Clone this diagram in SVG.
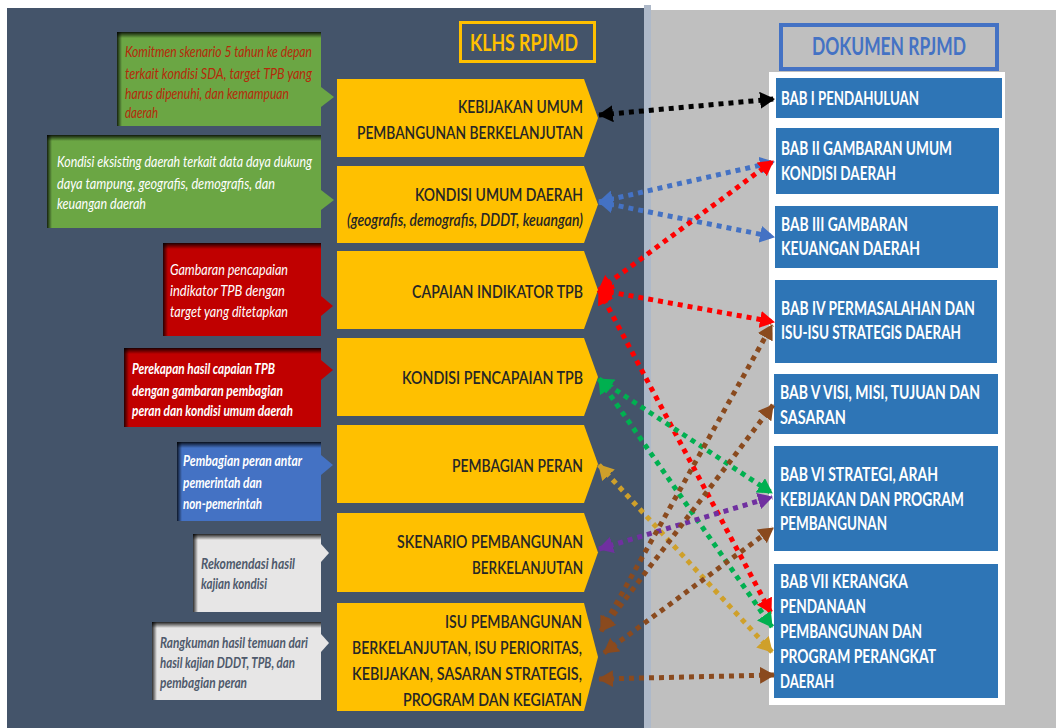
<svg xmlns="http://www.w3.org/2000/svg" width="1056" height="728" viewBox="0 0 1056 728">
<style>
.f{font-family:"Lato","DejaVu Sans",sans-serif}
.yt{font-size:17.5px;fill:#262626;font-weight:600}
.bt{font-size:18px;fill:#fff;font-weight:bold}
.lt{font-size:15.5px;font-style:italic}
.lb{font-weight:bold}
.c{fill:none;stroke-width:5;stroke-dasharray:5 5}
</style>
<defs>
<linearGradient id="shT" x1="0" y1="0" x2="0" y2="1"><stop offset="0" stop-color="#000" stop-opacity="0.85"/><stop offset="1" stop-color="#000" stop-opacity="0"/></linearGradient>
<linearGradient id="shL" x1="0" y1="0" x2="1" y2="0"><stop offset="0" stop-color="#000" stop-opacity="0.8"/><stop offset="1" stop-color="#000" stop-opacity="0"/></linearGradient>
<marker id="mk" viewBox="0 0 15 17" markerWidth="15" markerHeight="17" refX="14" refY="8.5" orient="auto-start-reverse" markerUnits="userSpaceOnUse"><path d="M0,0 L15,8.5 L0,17 z" fill="#000"/></marker>
<marker id="mb" viewBox="0 0 15 17" markerWidth="15" markerHeight="17" refX="14" refY="8.5" orient="auto-start-reverse" markerUnits="userSpaceOnUse"><path d="M0,0 L15,8.5 L0,17 z" fill="#4472C4"/></marker>
<marker id="mr" viewBox="0 0 15 17" markerWidth="15" markerHeight="17" refX="14" refY="8.5" orient="auto-start-reverse" markerUnits="userSpaceOnUse"><path d="M0,0 L15,8.5 L0,17 z" fill="#FF0000"/></marker>
<marker id="mg" viewBox="0 0 15 17" markerWidth="15" markerHeight="17" refX="14" refY="8.5" orient="auto-start-reverse" markerUnits="userSpaceOnUse"><path d="M0,0 L15,8.5 L0,17 z" fill="#00B050"/></marker>
<marker id="my" viewBox="0 0 15 17" markerWidth="15" markerHeight="17" refX="14" refY="8.5" orient="auto-start-reverse" markerUnits="userSpaceOnUse"><path d="M0,0 L15,8.5 L0,17 z" fill="#CFA02A"/></marker>
<marker id="mp" viewBox="0 0 15 17" markerWidth="15" markerHeight="17" refX="14" refY="8.5" orient="auto-start-reverse" markerUnits="userSpaceOnUse"><path d="M0,0 L15,8.5 L0,17 z" fill="#7030A0"/></marker>
<marker id="mn" viewBox="0 0 15 17" markerWidth="15" markerHeight="17" refX="14" refY="8.5" orient="auto-start-reverse" markerUnits="userSpaceOnUse"><path d="M0,0 L15,8.5 L0,17 z" fill="#8A4A1E"/></marker>
</defs>

<rect x="0" y="0" width="1056" height="728" fill="#fff"/>
<rect x="7" y="8" width="637" height="720" fill="#44546A"/>
<rect x="644" y="5" width="7" height="723" fill="#AEB9C9"/>
<rect x="651" y="10" width="405" height="718" fill="#BFBFBF"/>
<rect x="769" y="72" width="236" height="633" fill="#fff"/>

<g id="klhs-header">
<rect x="460.5" y="22.5" width="134" height="39" fill="none" stroke="#FFC000" stroke-width="3"/>
<text class="f" x="470" y="51" font-size="22" font-weight="bold" fill="#FFC000" textLength="108" lengthAdjust="spacingAndGlyphs">KLHS RPJMD</text>
</g>
<g id="dokumen-header">
<rect x="781" y="25" width="216" height="44" fill="none" stroke="#4472C4" stroke-width="4"/>
<text class="f" x="812" y="55" font-size="24" font-weight="bold" fill="#4472C4" textLength="154" lengthAdjust="spacingAndGlyphs">DOKUMEN RPJMD</text>
</g>

<!-- left notes -->
<g id="note-1">
<polygon points="321,87 334,97 321,107" fill="#6BA644"/>
<rect x="117" y="32" width="204" height="94" fill="#6BA644"/>
<rect x="117" y="32" width="204" height="6" fill="url(#shT)"/>
<rect x="117" y="32" width="5" height="94" fill="url(#shL)"/>
<g class="f lt" fill="#B52A0A">
<text x="125" y="57" textLength="187" lengthAdjust="spacingAndGlyphs">Komitmen skenario 5 tahun ke depan</text>
<text x="125" y="79" textLength="187" lengthAdjust="spacingAndGlyphs">terkait kondisi SDA, target TPB yang</text>
<text x="125" y="99" textLength="164" lengthAdjust="spacingAndGlyphs">harus dipenuhi, dan kemampuan</text>
<text x="125" y="118" textLength="33" lengthAdjust="spacingAndGlyphs">daerah</text>
</g>
</g>
<g id="note-2">
<polygon points="321,190 334,200 321,210" fill="#6BA644"/>
<rect x="47" y="135" width="274" height="93" fill="#6BA644"/>
<rect x="47" y="135" width="274" height="6" fill="url(#shT)"/>
<rect x="47" y="135" width="5" height="93" fill="url(#shL)"/>
<g class="f lt" fill="#fff">
<text x="57" y="167" textLength="255" lengthAdjust="spacingAndGlyphs">Kondisi eksisting daerah terkait data daya dukung</text>
<text x="57" y="189" textLength="218" lengthAdjust="spacingAndGlyphs">daya tampung, geografis, demografis, dan</text>
<text x="57" y="209" textLength="89" lengthAdjust="spacingAndGlyphs">keuangan daerah</text>
</g>
</g>
<g id="note-3">
<polygon points="321,296 333,306 321,316" fill="#C00000"/>
<rect x="163" y="243" width="158" height="93" fill="#C00000"/>
<rect x="163" y="243" width="158" height="6" fill="url(#shT)"/>
<rect x="163" y="243" width="5" height="93" fill="url(#shL)"/>
<g class="f lt" fill="#fff">
<text x="170" y="275" textLength="118" lengthAdjust="spacingAndGlyphs">Gambaran pencapaian</text>
<text x="170" y="296" textLength="115" lengthAdjust="spacingAndGlyphs">indikator TPB dengan</text>
<text x="170" y="317" textLength="118" lengthAdjust="spacingAndGlyphs">target yang ditetapkan</text>
</g>
</g>
<g id="note-4">
<polygon points="321,360 333,370 321,380" fill="#C00000"/>
<rect x="124" y="348" width="197" height="79" fill="#C00000"/>
<rect x="124" y="348" width="197" height="6" fill="url(#shT)"/>
<rect x="124" y="348" width="5" height="79" fill="url(#shL)"/>
<g class="f lt lb" fill="#fff">
<text x="132" y="374" textLength="143" lengthAdjust="spacingAndGlyphs">Perekapan hasil capaian TPB</text>
<text x="132" y="396" textLength="151" lengthAdjust="spacingAndGlyphs">dengan gambaran pembagian</text>
<text x="132" y="416" textLength="161" lengthAdjust="spacingAndGlyphs">peran dan kondisi umum daerah</text>
</g>
</g>
<g id="note-5">
<polygon points="321,455 333,465 321,475" fill="#4472C4"/>
<rect x="177" y="442" width="144" height="79" fill="#4472C4"/>
<rect x="177" y="442" width="144" height="6" fill="url(#shT)"/>
<rect x="177" y="442" width="5" height="79" fill="url(#shL)"/>
<g class="f lt lb" fill="#fff">
<text x="183" y="466" textLength="119" lengthAdjust="spacingAndGlyphs">Pembagian peran antar</text>
<text x="183" y="488" textLength="79" lengthAdjust="spacingAndGlyphs">pemerintah dan</text>
<text x="183" y="509" textLength="79" lengthAdjust="spacingAndGlyphs">non-pemerintah</text>
</g>
</g>
<g id="note-6">
<polygon points="321,544 329,553 321,562" fill="#E7E6E6"/>
<rect x="193" y="534" width="128" height="78" fill="#E7E6E6"/>
<rect x="193" y="534" width="128" height="6" fill="url(#shT)"/>
<rect x="193" y="534" width="5" height="78" fill="url(#shL)"/>
<g class="f lt lb" fill="#4F5A6C">
<text x="201" y="569" textLength="94" lengthAdjust="spacingAndGlyphs">Rekomendasi hasil</text>
<text x="201" y="589" textLength="66" lengthAdjust="spacingAndGlyphs">kajian kondisi</text>
</g>
</g>
<g id="note-7">
<polygon points="321,634 329,643 321,652" fill="#E7E6E6"/>
<rect x="152" y="622" width="169" height="78" fill="#E7E6E6"/>
<rect x="152" y="622" width="169" height="6" fill="url(#shT)"/>
<rect x="152" y="622" width="5" height="78" fill="url(#shL)"/>
<g class="f lt lb" fill="#4F5A6C">
<text x="160" y="648" textLength="148" lengthAdjust="spacingAndGlyphs">Rangkuman hasil temuan dari</text>
<text x="160" y="668" textLength="135" lengthAdjust="spacingAndGlyphs">hasil kajian DDDT, TPB, dan</text>
<text x="160" y="688" textLength="87" lengthAdjust="spacingAndGlyphs">pembagian peran</text>
</g>
</g>

<!-- yellow steps -->
<g id="step-1">
<polygon points="337,79 584,79 598,118 584,157 337,157" fill="#FFC000"/>
<text class="f yt" x="458" y="113" textLength="125" lengthAdjust="spacingAndGlyphs">KEBIJAKAN UMUM</text>
<text class="f yt" x="357" y="139" textLength="226" lengthAdjust="spacingAndGlyphs">PEMBANGUNAN BERKELANJUTAN</text>
</g>
<g id="step-2">
<polygon points="337,166 584,166 598,204.5 584,243 337,243" fill="#FFC000"/>
<text class="f yt" x="415" y="201" textLength="168" lengthAdjust="spacingAndGlyphs">KONDISI UMUM DAERAH</text>
<text class="f yt" x="347" y="226" font-weight="bold" font-style="italic" textLength="236" lengthAdjust="spacingAndGlyphs">(geografis, demografis, DDDT, keuangan)</text>
</g>
<g id="step-3">
<polygon points="337,251 584,251 598,290 584,329 337,329" fill="#FFC000"/>
<text class="f yt" x="412" y="298" textLength="171" lengthAdjust="spacingAndGlyphs">CAPAIAN INDIKATOR TPB</text>
</g>
<g id="step-4">
<polygon points="337,338 584,338 598,377 584,416 337,416" fill="#FFC000"/>
<text class="f yt" x="402" y="384" textLength="181" lengthAdjust="spacingAndGlyphs">KONDISI PENCAPAIAN TPB</text>
</g>
<g id="step-5">
<polygon points="337,425 584,425 598,464 584,503 337,503" fill="#FFC000"/>
<text class="f yt" x="452" y="472" textLength="131" lengthAdjust="spacingAndGlyphs">PEMBAGIAN PERAN</text>
</g>
<g id="step-6">
<polygon points="337,513 584,513 598,552.5 584,592 337,592" fill="#FFC000"/>
<text class="f yt" x="397" y="548" textLength="186" lengthAdjust="spacingAndGlyphs">SKENARIO PEMBANGUNAN</text>
<text class="f yt" x="472" y="574" textLength="111" lengthAdjust="spacingAndGlyphs">BERKELANJUTAN</text>
</g>
<g id="step-7">
<polygon points="337,603 584,603 598,657 584,711 337,711" fill="#FFC000"/>
<text class="f yt" x="445" y="628" textLength="137" lengthAdjust="spacingAndGlyphs">ISU PEMBANGUNAN</text>
<text class="f yt" x="352" y="654" textLength="230" lengthAdjust="spacingAndGlyphs">BERKELANJUTAN, ISU PERIORITAS,</text>
<text class="f yt" x="352" y="680" textLength="230" lengthAdjust="spacingAndGlyphs">KEBIJAKAN, SASARAN STRATEGIS,</text>
<text class="f yt" x="403" y="706" textLength="179" lengthAdjust="spacingAndGlyphs">PROGRAM DAN KEGIATAN</text>
</g>

<!-- right chapters -->
<g id="bab-1">
<rect x="776" y="78" width="226" height="40" fill="#2E75B6"/>
<text class="f bt" x="781" y="105" textLength="138" lengthAdjust="spacingAndGlyphs">BAB I PENDAHULUAN</text>
</g>
<g id="bab-2">
<rect x="776" y="128" width="223" height="66" fill="#2E75B6"/>
<text class="f bt" x="781" y="155" textLength="171" lengthAdjust="spacingAndGlyphs">BAB II GAMBARAN UMUM</text>
<text class="f bt" x="781" y="180" textLength="115" lengthAdjust="spacingAndGlyphs">KONDISI DAERAH</text>
</g>
<g id="bab-3">
<rect x="775" y="206" width="223" height="62" fill="#2E75B6"/>
<text class="f bt" x="781" y="231" textLength="127" lengthAdjust="spacingAndGlyphs">BAB III GAMBARAN</text>
<text class="f bt" x="781" y="255" textLength="139" lengthAdjust="spacingAndGlyphs">KEUANGAN DAERAH</text>
</g>
<g id="bab-4">
<rect x="775" y="280" width="222" height="83" fill="#2E75B6"/>
<text class="f bt" x="781" y="315" textLength="194" lengthAdjust="spacingAndGlyphs">BAB IV PERMASALAHAN DAN</text>
<text class="f bt" x="781" y="339" textLength="180" lengthAdjust="spacingAndGlyphs">ISU-ISU STRATEGIS DAERAH</text>
</g>
<g id="bab-5">
<rect x="774" y="374" width="224" height="60" fill="#2E75B6"/>
<text class="f bt" x="780" y="399" textLength="200" lengthAdjust="spacingAndGlyphs">BAB V VISI, MISI, TUJUAN DAN</text>
<text class="f bt" x="780" y="424" textLength="66" lengthAdjust="spacingAndGlyphs">SASARAN</text>
</g>
<g id="bab-6">
<rect x="774" y="446" width="224" height="105" fill="#2E75B6"/>
<text class="f bt" x="780" y="481" textLength="158" lengthAdjust="spacingAndGlyphs">BAB VI STRATEGI, ARAH</text>
<text class="f bt" x="780" y="506" textLength="184" lengthAdjust="spacingAndGlyphs">KEBIJAKAN DAN PROGRAM</text>
<text class="f bt" x="780" y="530" textLength="107" lengthAdjust="spacingAndGlyphs">PEMBANGUNAN</text>
</g>
<g id="bab-7">
<rect x="774" y="564" width="224" height="134" fill="#2E75B6"/>
<text class="f bt" x="780" y="588" textLength="128" lengthAdjust="spacingAndGlyphs">BAB VII KERANGKA</text>
<text class="f bt" x="780" y="613" textLength="86" lengthAdjust="spacingAndGlyphs">PENDANAAN</text>
<text class="f bt" x="780" y="638" textLength="142" lengthAdjust="spacingAndGlyphs">PEMBANGUNAN DAN</text>
<text class="f bt" x="780" y="663" textLength="156" lengthAdjust="spacingAndGlyphs">PROGRAM PERANGKAT</text>
<text class="f bt" x="780" y="688" textLength="54" lengthAdjust="spacingAndGlyphs">DAERAH</text>
</g>

<g id="connectors">
<line class="c" x1="599" y1="115" x2="774" y2="99" stroke="#000" stroke-width="6" marker-start="url(#mk)" marker-end="url(#mk)"/>
<line class="c" x1="599" y1="202" x2="774" y2="162" stroke="#4472C4" marker-start="url(#mb)" marker-end="url(#mb)"/>
<line class="c" x1="599" y1="202" x2="774" y2="237" stroke="#4472C4" marker-start="url(#mb)" marker-end="url(#mb)"/>
<line class="c" x1="599" y1="290" x2="773" y2="161" stroke="#FF0000" marker-start="url(#mr)" marker-end="url(#mr)"/>
<line class="c" x1="599" y1="290" x2="774" y2="322" stroke="#FF0000" marker-start="url(#mr)" marker-end="url(#mr)"/>
<line class="c" x1="599" y1="290" x2="771" y2="613" stroke="#FF0000" marker-start="url(#mr)" marker-end="url(#mr)"/>
<line class="c" x1="599" y1="379" x2="772" y2="493" stroke="#00B050" marker-start="url(#mg)" marker-end="url(#mg)"/>
<line class="c" x1="599" y1="379" x2="772" y2="627" stroke="#00B050" marker-start="url(#mg)" marker-end="url(#mg)"/>
<line class="c" x1="599" y1="465" x2="772" y2="652" stroke="#CFA02A" marker-start="url(#my)" marker-end="url(#my)"/>
<line class="c" x1="599" y1="549" x2="772" y2="497" stroke="#7030A0" marker-start="url(#mp)" marker-end="url(#mp)"/>
<line class="c" x1="601" y1="631" x2="772" y2="325" stroke="#8A4A1E" marker-start="url(#mn)" marker-end="url(#mn)"/>
<line class="c" x1="601" y1="631" x2="773" y2="405" stroke="#8A4A1E" marker-start="url(#mn)" marker-end="url(#mn)"/>
<line class="c" x1="604" y1="653" x2="773" y2="528" stroke="#8A4A1E" marker-start="url(#mn)" marker-end="url(#mn)"/>
<line class="c" x1="599" y1="679" x2="774" y2="675" stroke="#8A4A1E" stroke-width="6" marker-start="url(#mn)" marker-end="url(#mn)"/>
</g>
</svg>
